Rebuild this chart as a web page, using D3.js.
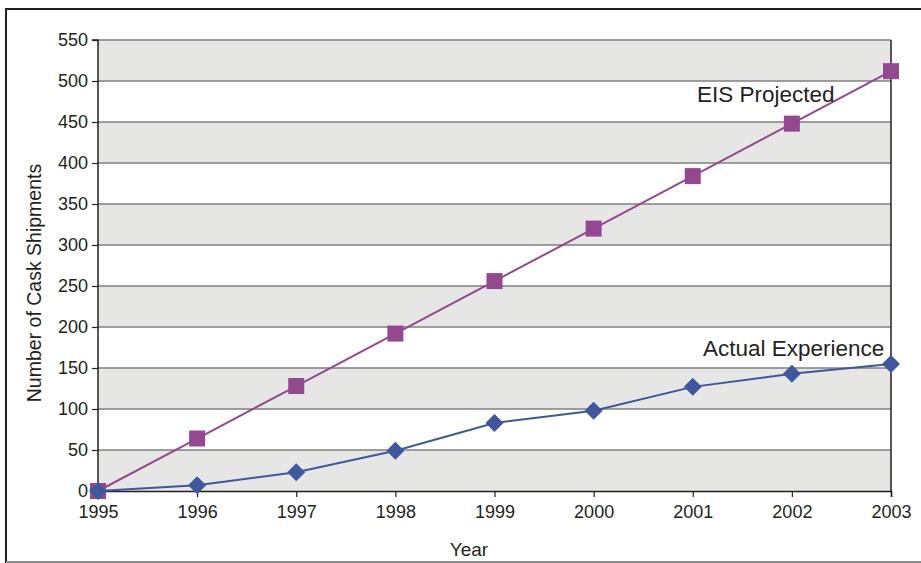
<!DOCTYPE html>
<html><head><meta charset="utf-8">
<script src="https://cdn.jsdelivr.net/npm/d3@7"></script>
<style>body{margin:0;background:#fff}svg{display:block}text{font-family:"Liberation Sans",Arial,sans-serif;fill:#231f20}</style>
</head><body>
<svg id="c" width="921" height="563"></svg>
<script>
const years = [1995,1996,1997,1998,1999,2000,2001,2002,2003];
const eisProjected = [0,64,128,192,256,320,384,448,512];
const actualExperience = [0,7,23,49,83,98,127,143,155];
const yTicks = [0,50,100,150,200,250,300,350,400,450,500,550];

const svg = d3.select("#c");
const m = {l:98, r:891, t:40, b:491};
const x = d3.scaleLinear().domain([1995,2003]).range([m.l,m.r]);
const y = d3.scaleLinear().domain([0,550]).range([m.b,m.t]);

// outer frame
svg.append("rect").attr("x",6).attr("y",9).attr("width",940).attr("height",553)
  .attr("fill","none").attr("stroke","#231f20").attr("stroke-width",2);
svg.append("line").attr("x1",6).attr("x2",921).attr("y1",562).attr("y2",562)
  .attr("stroke","#8c8c8c").attr("stroke-width",2);

// alternating bands
const bands = yTicks.slice(0,-1).filter((d,i)=>i%2===0);
svg.append("g").selectAll("rect").data(bands).join("rect")
  .attr("x",m.l).attr("width",m.r-m.l)
  .attr("y",d=>y(d+50)).attr("height",d=>y(d)-y(d+50))
  .attr("fill","#e6e6e5");

// gridlines
svg.append("g").selectAll("line").data(yTicks.filter(d=>d>0)).join("line")
  .attr("x1",m.l).attr("x2",m.r).attr("y1",d=>y(d)).attr("y2",d=>y(d))
  .attr("stroke","#7f7f7f").attr("stroke-width",1.5);

// right border
svg.append("line").attr("x1",m.r).attr("x2",m.r).attr("y1",m.t).attr("y2",m.b)
  .attr("stroke","#231f20").attr("stroke-width",1.5);

// axes
const yAxis = d3.axisLeft(y).tickValues(yTicks).tickSize(6).tickPadding(4);
const gy = svg.append("g").attr("transform",`translate(${m.l},0)`).call(yAxis);
const xAxis = d3.axisBottom(x).tickValues(years).tickFormat(d3.format("d")).tickSize(6).tickPadding(8);
const gx = svg.append("g").attr("transform",`translate(0,${m.b})`).call(xAxis);
[gx,gy].forEach(g=>{
  g.select(".domain").attr("stroke","#231f20").attr("stroke-width",1.5);
  g.selectAll(".tick line").attr("stroke","#231f20").attr("stroke-width",1.2);
  g.selectAll(".tick text").attr("font-size",18).attr("fill","#231f20")
   .style("font-family",'"Liberation Sans",Arial,sans-serif');
});
gy.select(".domain").attr("d",`M-6,${m.t}H0V${m.b}H-6`);

// lines
const line = d3.line().x((d,i)=>x(years[i])).y(d=>y(d));
svg.append("path").datum(eisProjected).attr("d",line)
  .attr("fill","none").attr("stroke","#93488f").attr("stroke-width",2);
svg.append("path").datum(actualExperience).attr("d",line)
  .attr("fill","none").attr("stroke","#3f56a0").attr("stroke-width",2);

// markers
svg.append("g").selectAll("rect").data(eisProjected).join("rect")
  .attr("x",(d,i)=>x(years[i])-8).attr("y",d=>y(d)-8)
  .attr("width",16).attr("height",16).attr("fill","#93488f");
svg.append("g").selectAll("path").data(actualExperience).join("path")
  .attr("transform",(d,i)=>`translate(${x(years[i])},${y(d)})`)
  .attr("d","M0,-9L9,0L0,9L-9,0Z").attr("fill","#3f56a0");

// series labels
svg.append("text").attr("x",697).attr("y",102).attr("font-size",22.5).text("EIS Projected");
svg.append("text").attr("x",703).attr("y",356).attr("font-size",22.5).text("Actual Experience");

// axis titles
svg.append("text").attr("x",469).attr("y",556).attr("text-anchor","middle").attr("font-size",19).text("Year");
svg.append("text").attr("transform","translate(41,283) rotate(-90)").attr("text-anchor","middle")
  .attr("font-size",19.5).text("Number of Cask Shipments");
</script>
</body></html>
